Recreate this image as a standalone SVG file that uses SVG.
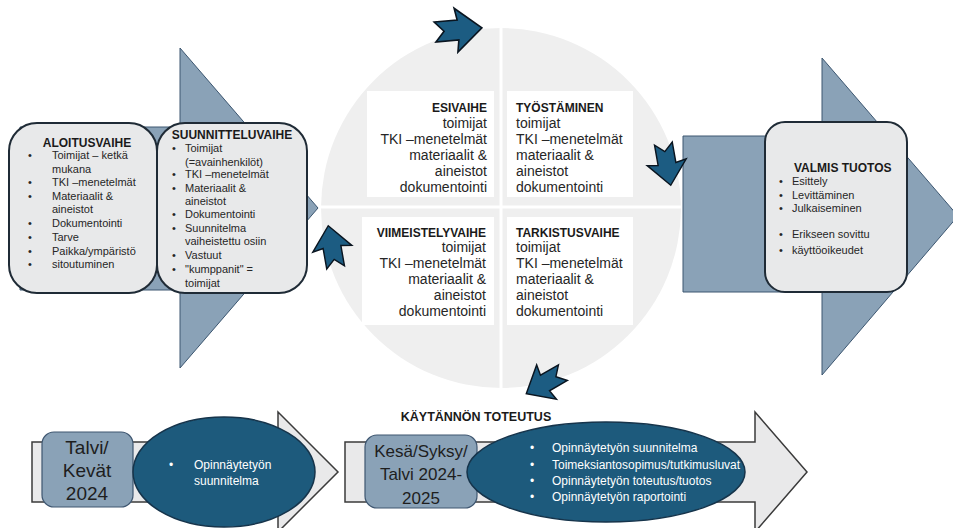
<svg xmlns="http://www.w3.org/2000/svg" width="953" height="528" viewBox="0 0 953 528">
<defs>
<style>
text{font-family:"Liberation Sans",Arial,sans-serif;fill:#262626}
.b{font-weight:bold}
.h{font-size:12px;font-weight:bold;fill:#1a1a1a}
.q{font-size:14px}
.s{font-size:11px}
.w{font-size:12px;fill:#ffffff}
.big{font-size:19px;fill:#1e1e1e}
.mid{font-size:17px;fill:#1e1e1e}
.r{text-anchor:end}
.c{text-anchor:middle}
.arrow{fill:#8aa2b7;stroke:#3c5670;stroke-width:1}
.lg{fill:#e9e9ea;stroke:#3b3b3b;stroke-width:1.5}
.box{fill:#e8e9ea;stroke:#1f2b36;stroke-width:2}
.tb{fill:#ffffff}
.ell{fill:#1d5a7c;stroke:#16344b;stroke-width:1.5}
.sb{fill:#8aa2b7;stroke:#3e5670;stroke-width:1.2}
.star{fill:#1c5c82;stroke:#0a1520;stroke-width:1.6;stroke-linejoin:miter}
</style>
<path id="notch" d="M-23,-10 L0,-10 L-2,-22 L24,0 L-2,22 L0,10 L-23,10 L-14,0 Z"/>
</defs>
<rect width="953" height="528" fill="#ffffff"/>

<g id="cycle">
<circle cx="501" cy="208" r="180" fill="#efefef"/>
<line x1="501" y1="26" x2="501" y2="390" stroke="#ffffff" stroke-width="3"/>
<line x1="320" y1="207" x2="682" y2="207" stroke="#ffffff" stroke-width="3"/>
</g>

<g id="left-arrow">
<polygon class="arrow" points="20,127 180,127 180,48 318,208 180,368 180,290 20,290"/>
</g>

<g id="right-arrow">
<polygon class="arrow" points="683,136 822,136 822,58 958,216 822,375 822,292 683,292"/>
</g>

<g id="aloitusvaihe">
<rect class="box" x="9" y="123" width="148" height="170" rx="28"/>
<text class="h c" x="87" y="147">ALOITUSVAIHE</text>
<g class="s">
<text x="28" y="159">•</text><text x="52" y="159">Toimijat – ketkä</text>
<text x="52" y="173">mukana</text>
<text x="28" y="186">•</text><text x="52" y="186">TKI –menetelmät</text>
<text x="28" y="200">•</text><text x="52" y="200">Materiaalit &amp;</text>
<text x="52" y="213">aineistot</text>
<text x="28" y="227">•</text><text x="52" y="227">Dokumentointi</text>
<text x="28" y="241">•</text><text x="52" y="241">Tarve</text>
<text x="28" y="255">•</text><text x="52" y="255">Paikka/ympäristö</text>
<text x="28" y="268">•</text><text x="52" y="268">sitoutuminen</text>
</g>
</g>

<g id="suunnitteluvaihe">
<rect class="box" x="157" y="123" width="150" height="170" rx="28"/>
<text class="h c" x="232" y="139">SUUNNITTELUVAIHE</text>
<g class="s">
<text x="172" y="152">•</text><text x="185" y="152">Toimijat</text>
<text x="185" y="166">(=avainhenkilöt)</text>
<text x="172" y="178">•</text><text x="185" y="178">TKI –menetelmät</text>
<text x="172" y="192">•</text><text x="185" y="192">Materiaalit &amp;</text>
<text x="185" y="205">aineistot</text>
<text x="172" y="218">•</text><text x="185" y="218">Dokumentointi</text>
<text x="172" y="232">•</text><text x="185" y="232">Suunnitelma</text>
<text x="185" y="245">vaiheistettu osiin</text>
<text x="172" y="259">•</text><text x="185" y="259">Vastuut</text>
<text x="172" y="273">•</text><text x="185" y="273">"kumppanit" =</text>
<text x="185" y="287">toimijat</text>
</g>
</g>

<g id="esivaihe">
<rect class="tb" x="367" y="91" width="127" height="106"/>
<text class="h r" x="487" y="112">ESIVAIHE</text>
<g class="q r">
<text class="r" x="487" y="128">toimijat</text>
<text class="r" x="487" y="144">TKI –menetelmät</text>
<text class="r" x="487" y="160">materiaalit &amp;</text>
<text class="r" x="487" y="176">aineistot</text>
<text class="r" x="487" y="192">dokumentointi</text>
</g>
</g>

<g id="tyostaminen">
<rect class="tb" x="507" y="91" width="126" height="106"/>
<text class="h" x="516" y="112">TYÖSTÄMINEN</text>
<g class="q">
<text x="516" y="128">toimijat</text>
<text x="516" y="144">TKI –menetelmät</text>
<text x="516" y="160">materiaalit &amp;</text>
<text x="516" y="176">aineistot</text>
<text x="516" y="192">dokumentointi</text>
</g>
</g>

<g id="viimeistelyvaihe">
<rect class="tb" x="362" y="217" width="132" height="108"/>
<text class="h r" x="486" y="237">VIIMEISTELYVAIHE</text>
<g class="q">
<text class="r" x="486" y="252">toimijat</text>
<text class="r" x="486" y="268">TKI –menetelmät</text>
<text class="r" x="486" y="284">materiaalit &amp;</text>
<text class="r" x="486" y="300">aineistot</text>
<text class="r" x="486" y="316">dokumentointi</text>
</g>
</g>

<g id="tarkistusvaihe">
<rect class="tb" x="507" y="217" width="126" height="108"/>
<text class="h" x="516" y="237">TARKISTUSVAIHE</text>
<g class="q">
<text x="516" y="252">toimijat</text>
<text x="516" y="268">TKI –menetelmät</text>
<text x="516" y="284">materiaalit &amp;</text>
<text x="516" y="300">aineistot</text>
<text x="516" y="316">dokumentointi</text>
</g>
</g>

<g id="valmis-tuotos">
<rect class="box" x="765" y="122" width="142" height="170" rx="20"/>
<text class="h" x="794" y="172">VALMIS TUOTOS</text>
<g class="s">
<text x="779" y="185">•</text><text x="792" y="185">Esittely</text>
<text x="779" y="199">•</text><text x="792" y="199">Levittäminen</text>
<text x="779" y="212">•</text><text x="792" y="212">Julkaiseminen</text>
<text x="779" y="238">•</text><text x="792" y="238">Erikseen sovittu</text>
<text x="779" y="254">•</text><text x="792" y="254">käyttöoikeudet</text>
</g>
</g>

<g id="connectors">
<use href="#notch" class="star" transform="translate(458,30) rotate(-5)"/>
<use href="#notch" class="star" transform="translate(667,164) rotate(80) scale(0.9)"/>
<use href="#notch" class="star" transform="translate(545,383) rotate(150) scale(0.9)"/>
<use href="#notch" class="star" transform="translate(332,247) rotate(-100) scale(0.9)"/>
</g>

<g id="kaytannon-toteutus">
<text class="c b" x="476" y="421" style="font-size:12.5px;fill:#1a1a1a">KÄYTÄNNÖN TOTEUTUS</text>
</g>

<g id="timeline-1">
<polygon class="lg" points="32,442 278,442 278,412 338,472 278,532 278,502 32,502"/>
<rect class="sb" x="42" y="432" width="91" height="75" rx="12"/>
<text class="big c" x="87" y="454">Talvi/</text>
<text class="big c" x="87" y="477">Kevät</text>
<text class="big c" x="87" y="500">2024</text>
<ellipse class="ell" cx="224" cy="472" rx="91" ry="55"/>
<text class="w" x="169" y="469">•</text>
<text class="w" x="194" y="469">Opinnäytetyön</text>
<text class="w" x="194" y="485">suunnitelma</text>
</g>

<g id="timeline-2">
<polygon class="lg" points="345,442 755,442 755,412 807,472 755,532 755,502 345,502"/>
<rect class="sb" x="365" y="435" width="112" height="73" rx="12"/>
<text class="mid c" x="421" y="457">Kesä/Syksy/</text>
<text class="mid c" x="421" y="480">Talvi 2024-</text>
<text class="mid c" x="421" y="504">2025</text>
<ellipse class="ell" cx="606" cy="472" rx="139" ry="50"/>
<text class="w" x="530" y="452">•</text><text class="w" x="552" y="452">Opinnäytetyön suunnitelma</text>
<text class="w" x="530" y="469">•</text><text class="w" x="552" y="469">Toimeksiantosopimus/tutkimusluvat</text>
<text class="w" x="530" y="485">•</text><text class="w" x="552" y="485">Opinnäytetyön toteutus/tuotos</text>
<text class="w" x="530" y="501">•</text><text class="w" x="552" y="501">Opinnäytetyön raportointi</text>
</g>
</svg>
